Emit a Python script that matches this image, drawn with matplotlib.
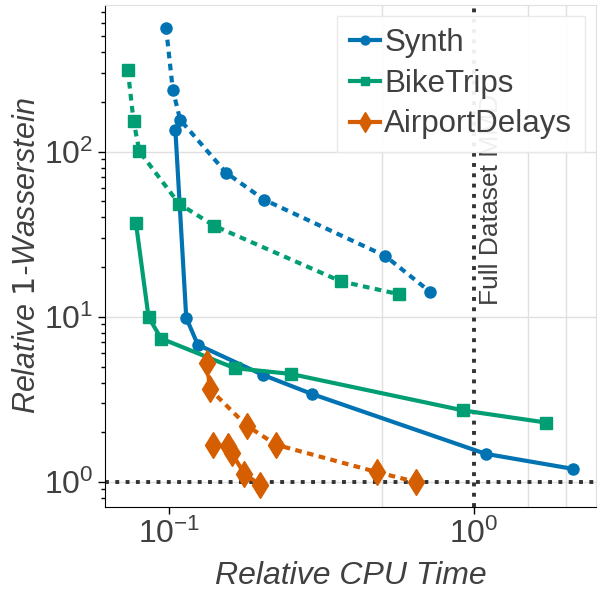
import numpy as np
import matplotlib.pyplot as plt

# Synth
synth_fast_x = [0.0977, 0.1028, 0.1087, 0.1538, 0.2049, 0.511, 0.717]
synth_fast_y = [564, 237, 156, 74.6, 51.2, 23.4, 14.2]
synth_x = [0.1048, 0.1138, 0.1242, 0.203, 0.294, 1.092, 2.11]
synth_y = [136, 9.86, 6.77, 4.45, 3.41, 1.48, 1.20]

# BikeTrips
bike_fast_x = [0.0732, 0.0764, 0.0799, 0.1078, 0.1405, 0.366, 0.568]
bike_fast_y = [313, 154, 100.4, 48.4, 35.6, 16.4, 13.7]
bike_x = [0.0778, 0.0856, 0.0941, 0.164, 0.2506, 0.923, 1.72]
bike_y = [37.1, 9.96, 7.39, 4.89, 4.51, 2.71, 2.29]

# AirportDelays
air_fast_x = [0.1333, 0.136, 0.1798, 0.2244, 0.482, 0.645]
air_fast_y = [5.24, 3.65, 2.19, 1.68, 1.145, 1.00]
air_x = [0.1397, 0.1557, 0.1606, 0.1766, 0.1988]
air_y = [1.68, 1.64, 1.49, 1.12, 0.959]

blue = '#0173b2'
green = '#029e73'
orange = '#d55e00'
txt = '#404040'

plt.rcParams['font.family'] = ['Liberation Sans', 'DejaVu Sans']

fig, ax = plt.subplots(figsize=(6, 6), dpi=100)
fig.subplots_adjust(left=0.175, right=0.993, top=0.992, bottom=0.155)

ax.set_xscale('log')
ax.set_yscale('log')

# reference lines
ax.axhline(1.0, color='#333333', ls=':', lw=2.8, zorder=1)
ax.axvline(1.0, color='#333333', ls=':', lw=2.8, zorder=1)
ax.text(1.04, 11.8, 'Full Dataset MMD', rotation=90, fontsize=19,
        color=txt, ha='left', va='bottom', zorder=1)

dots = (1.6, 1.3)
ax.plot(synth_x, synth_y, '-o', color=blue, lw=3, ms=8, label='Synth', zorder=3)
ax.plot(synth_fast_x, synth_fast_y, 'o', color=blue, ls=(0, dots), lw=3, ms=8, zorder=3)
ax.plot(bike_x, bike_y, '-s', color=green, lw=3, ms=8, label='BikeTrips', zorder=3)
ax.plot(bike_fast_x, bike_fast_y, 's', color=green, ls=(0, dots), lw=3, ms=8, zorder=3)
ax.plot(air_x, air_y, '-d', color=orange, lw=3, ms=13, label='AirportDelays', zorder=3)
ax.plot(air_fast_x, air_fast_y, 'd', color=orange, ls=(0, dots), lw=3, ms=13, zorder=3)

ax.set_xlim(0.0616, 2.51)
ax.set_ylim(0.705, 776)

ax.set_xlabel('Relative CPU Time', fontsize=23, style='italic', color=txt, labelpad=8)
ax.set_ylabel(r'Relative $\mathit{1}$-Wasserstein', fontsize=22, style='italic',
              color=txt, labelpad=1)

ax.set_xticks([0.1, 1.0])
ax.set_xticks([0.5, 1.5, 2.0], minor=True)
ax.set_xticklabels([], minor=True)
ax.tick_params(axis='both', which='major', labelsize=23, labelcolor=txt, length=5, width=1)
ax.tick_params(axis='y', which='minor', length=3, width=1)
ax.tick_params(axis='x', which='minor', length=0)

ax.grid(False)
ax.grid(True, axis='y', which='major', color='#e0e0e0', lw=1, zorder=0)
ax.grid(True, axis='x', which='minor', color='#e0e0e0', lw=1, zorder=0)
ax.set_axisbelow(True)

for side in ['top', 'right']:
    ax.spines[side].set_color('#e0e0e0')
for side in ['left', 'bottom']:
    ax.spines[side].set_color('black')

leg = ax.legend(loc='upper right', fontsize=22.5, handlelength=0.95, handletextpad=0.15,
                markerscale=0.8, borderpad=0.4, labelspacing=0.34, frameon=True,
                framealpha=0.92, edgecolor='#e8e8e8', fancybox=False,
                borderaxespad=0.35)
for t in leg.get_texts():
    t.set_color(txt)
leg.set_zorder(5)

fig.savefig('out.png', dpi=100)
